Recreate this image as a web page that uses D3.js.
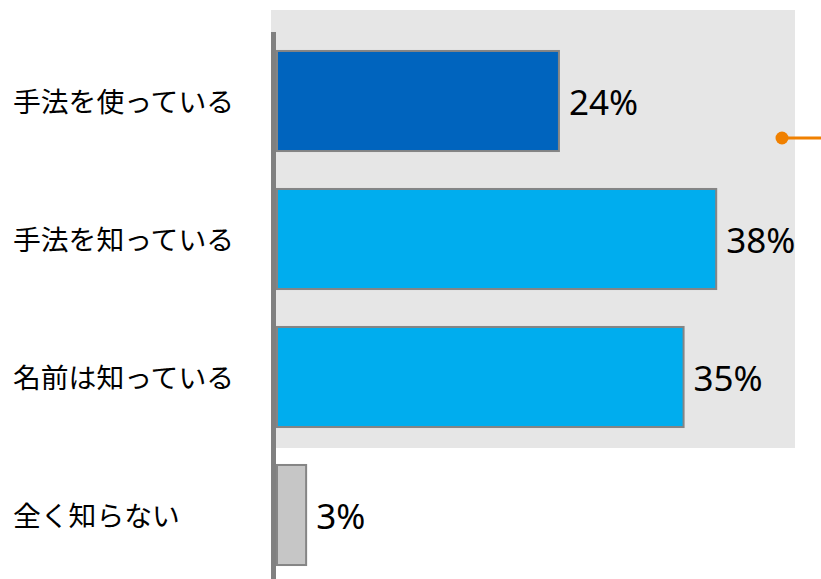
<!DOCTYPE html>
<html><head><meta charset="utf-8">
<script src="https://cdn.jsdelivr.net/npm/d3@7/dist/d3.min.js"></script>
<style>html,body{margin:0;padding:0;background:#fff;}svg{display:block;}</style>
</head><body>
<svg id="chart" width="821" height="579"></svg>
<script>
const categories = ["手法を使っている", "手法を知っている", "名前は知っている", "全く知らない"];
const values = [24.2, 37.7, 34.9, 2.5];
const valueLabels = ["24%", "38%", "35%", "3%"];
const barColors = ["#0064BE", "#00ADEE", "#00ADEE", "#C6C6C6"];

const svg = d3.select("#chart");
const x = d3.scaleLinear().domain([0, 10]).range([277, 393.5]);
const y = d3.scaleBand().domain(categories).range([32, 584]).paddingInner(0.275).paddingOuter(0.1375);

// background panel
svg.append("rect").attr("x", 271).attr("y", 10).attr("width", 524).attr("height", 438).attr("fill", "#E6E6E6");

// orange marker
svg.append("line").attr("x1", 782).attr("x2", 821).attr("y1", 138).attr("y2", 138)
  .attr("stroke", "#F08000").attr("stroke-width", 3);
svg.append("circle").attr("cx", 782).attr("cy", 138).attr("r", 6.5).attr("fill", "#F08000");

// bars
svg.selectAll("rect.bar").data(values).join("rect").attr("class", "bar")
  .attr("x", x(0))
  .attr("y", (d, i) => y(categories[i]))
  .attr("width", d => x(d) - x(0))
  .attr("height", y.bandwidth())
  .attr("fill", (d, i) => barColors[i])
  .attr("stroke", "#858585").attr("stroke-width", 2);

// axis line
svg.append("line").attr("x1", 273.5).attr("x2", 273.5).attr("y1", 32).attr("y2", 579)
  .attr("stroke", "#808080").attr("stroke-width", 5);

// category labels
svg.selectAll("text.cat").data(categories).join("text").attr("class", "cat")
  .attr("x", 13).attr("y", d => y(d) + y.bandwidth() / 2 + 1)
  .attr("dy", "0.35em")
  .attr("font-family", "'Noto Sans CJK JP', sans-serif").attr("font-size", 27.8)
  .attr("fill", "#000").text(d => d);

// value labels
svg.selectAll("text.val").data(values).join("text").attr("class", "val")
  .attr("x", d => x(d) + 10).attr("y", (d, i) => y(categories[i]) + y.bandwidth() / 2 + 1.5)
  .attr("dy", "0.36em")
  .attr("font-family", "'Noto Sans', sans-serif").attr("font-size", 35)
  .attr("fill", "#000").text((d, i) => valueLabels[i]);
</script>
</body></html>
